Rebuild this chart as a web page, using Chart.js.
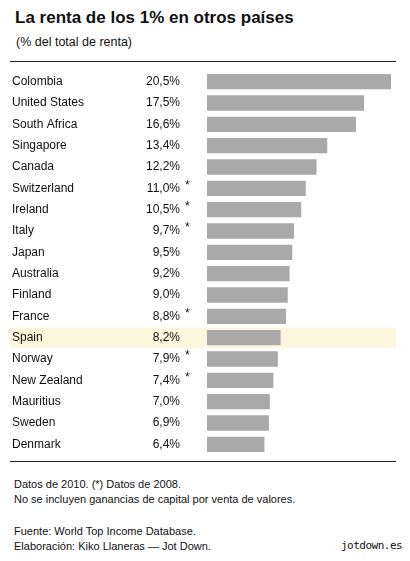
<!DOCTYPE html>
<html>
<head>
<meta charset="utf-8">
<script src="https://cdn.jsdelivr.net/npm/chart.js@4"></script>
<style>
  body { margin: 0; width: 410px; height: 561px; background: #fff; font-family: "Liberation Sans", Arial, sans-serif; color: #111; position: relative; }
  .t { position: absolute; white-space: nowrap; }
  #wrap { position: absolute; left: 0; top: 62px; width: 410px; height: 398px; }
  .rule { position: absolute; left: 10px; width: 386px; height: 1px; background: #222; }
</style>
</head>
<body>
<div class="t" style="left:15px;top:8px;font-size:17px;font-weight:bold;">La renta de los 1% en otros países</div>
<div class="t" style="left:16px;top:35px;font-size:12.5px;">(% del total de renta)</div>
<div class="rule" style="top:61px"></div>
<div id="wrap"><canvas id="grafico"></canvas></div>
<div class="rule" style="top:461px"></div>
<div class="t" style="left:14px;top:477px;font-size:11px;line-height:15px;">Datos de 2010. (*) Datos de 2008.<br>No se incluyen ganancias de capital por venta de valores.</div>
<div class="t" style="left:14px;top:524px;font-size:11px;line-height:15px;">Fuente: World Top Income Database.<br>Elaboración: Kiko Llaneras — Jot Down.</div>
<div class="t" style="left:341px;top:539px;font-size:11px;font-family:'DejaVu Sans Mono',monospace;letter-spacing:-0.5px;">jotdown.es</div>
<script>
const paises = ["Colombia", "United States", "South Africa", "Singapore", "Canada", "Switzerland", "Ireland", "Italy", "Japan", "Australia", "Finland", "France", "Spain", "Norway", "New Zealand", "Mauritius", "Sweden", "Denmark"];
const renta = [20.5, 17.5, 16.6, 13.4, 12.2, 11.0, 10.5, 9.7, 9.5, 9.2, 9.0, 8.8, 8.2, 7.9, 7.4, 7.0, 6.9, 6.4];
const datos2008 = ["Switzerland", "Ireland", "Italy", "France", "Norway", "New Zealand"];
const destacado = "Spain";

const textos = {
  id: "textos",
  beforeDatasetsDraw(chart) {
    const ctx = chart.ctx;
    const y = chart.scales.y;
    const i = paises.indexOf(destacado);
    const h = 20;
    ctx.save();
    ctx.fillStyle = "#fcf7dc";
    ctx.fillRect(10, y.getPixelForValue(i) - h / 2, 386, h);
    ctx.restore();
  },
  afterDatasetsDraw(chart) {
    const ctx = chart.ctx;
    const y = chart.scales.y;
    ctx.save();
    ctx.font = "12px 'Liberation Sans', Arial, sans-serif";
    ctx.fillStyle = "#111";
    ctx.textBaseline = "middle";
    paises.forEach((p, i) => {
      const py = y.getPixelForValue(i);
      ctx.textAlign = "left";
      ctx.fillText(p, 12, py);
      ctx.textAlign = "right";
      ctx.fillText(renta[i].toFixed(1).replace(".", ",") + "%", 180, py);
      if (datos2008.includes(p)) {
        ctx.textAlign = "left";
        ctx.fillText("*", 185, py - 3);
      }
    });
    ctx.restore();
  }
};

new Chart(document.getElementById("grafico"), {
  type: "bar",
  data: {
    labels: paises,
    datasets: [{
      data: renta,
      backgroundColor: "#a9a9a9",
      categoryPercentage: 1,
      barPercentage: 0.72,
    }],
  },
  options: {
    indexAxis: "y",
    responsive: true,
    maintainAspectRatio: false,
    animation: false,
    layout: { padding: { left: 207, right: 19, top: 9, bottom: 5 } },
    scales: {
      x: { display: false, min: 0, max: 20.5 },
      y: { display: false },
    },
    plugins: { legend: { display: false }, tooltip: { enabled: false } },
  },
  plugins: [textos],
});
</script>
</body>
</html>
